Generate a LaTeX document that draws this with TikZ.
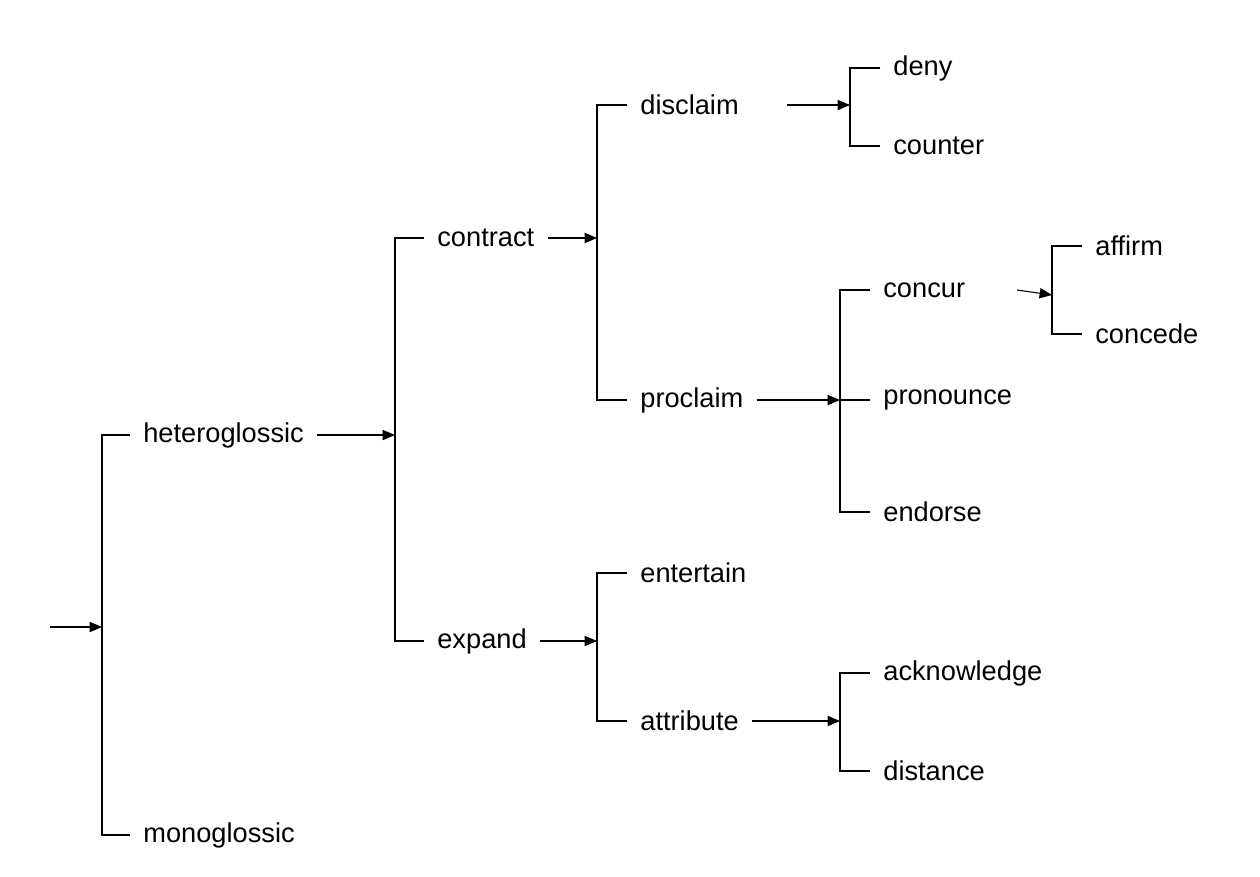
\documentclass[tikz,border=0pt]{standalone}
\usepackage{fontspec}
\setmainfont{Liberation Sans}
\usetikzlibrary{arrows}
\tikzset{opt/.style={anchor=west,inner xsep=0.26cm,inner ysep=0pt,font=\fontsize{15.5}{18}\selectfont},
  link/.style={line width=0.6pt},
  feed/.style={line width=0.6pt,->}}

\begin{document}
\begin{tikzpicture}[line cap=butt,line join=miter,>=triangle 45,x=0.02cm,y=-0.02cm]
\useasboundingbox (0,0) rectangle (1260,876);
% entry
\coordinate (in) at (50,627);
\coordinate (b0) at (102,627);
\coordinate (b0t) at (102,435);
\coordinate (b0b) at (102,835);
\node[opt] (het) at (130,435) {heteroglossic};
\node[opt] (mono) at (130,835) {monoglossic};
\draw[feed] (in) -- (b0);
\draw[link] (het.west) -- (b0t) -- (b0b) -- (mono.west);
% heteroglossic
\coordinate (b1) at (395,435);
\coordinate (b1t) at (395,238);
\coordinate (b1b) at (395,641);
\node[opt] (con) at (424,238) {contract};
\node[opt] (exp) at (424,641) {expand};
\draw[feed] (het.east) -- (b1);
\draw[link] (con.west) -- (b1t) -- (b1b) -- (exp.west);
% contract
\coordinate (b2) at (597,238);
\coordinate (b2t) at (597,105);
\coordinate (b2b) at (597,400);
\node[opt] (dis) at (627,105) {disclaim};
\node[opt] (pro) at (627,400) {proclaim};
\draw[feed] (con.east) -- (b2);
\draw[link] (dis.west) -- (b2t) -- (b2b) -- (pro.west);
% disclaim
\coordinate (b3) at (850,105);
\coordinate (b3t) at (850,68);
\coordinate (b3b) at (850,146);
\node[opt] (deny) at (880,68) {deny};
\node[opt] (cnt) at (880,146) {counter};
\draw[feed] ([xshift=20]dis.east) -- (b3);
\draw[link] (deny.west) -- (b3t) -- (b3b) -- (cnt.west);
% proclaim
\coordinate (b4) at (840,400);
\coordinate (b4t) at (840,290);
\coordinate (b4b) at (840,512);
\node[opt] (ccr) at (870,290) {concur};
\node[opt] (prn) at (870,400) {pronounce};
\node[opt] (end) at (870,512) {endorse};
\draw[feed] (pro.east) -- (b4);
\draw[link] (ccr.west) -- (b4t) -- (b4b) -- (end.west);
\draw[link] (b4) -- (prn.west);
% concur
\coordinate (b5) at (1052,295);
\coordinate (b5t) at (1052,246);
\coordinate (b5b) at (1052,334);
\node[opt] (aff) at (1082,246) {affirm};
\node[opt] (cde) at (1082,334) {concede};
\draw[feed] ([xshift=22]ccr.east) -- (b5);
\draw[link] (aff.west) -- (b5t) -- (b5b) -- (cde.west);
% expand
\coordinate (b6) at (597,641);
\coordinate (b6t) at (597,573);
\coordinate (b6b) at (597,721);
\node[opt] (ent) at (627,573) {entertain};
\node[opt] (att) at (627,721) {attribute};
\draw[feed] (exp.east) -- (b6);
\draw[link] (ent.west) -- (b6t) -- (b6b) -- (att.west);
% attribute
\coordinate (b7) at (840,721);
\coordinate (b7t) at (840,673);
\coordinate (b7b) at (840,771);
\node[opt] (ack) at (870,673) {acknowledge};
\node[opt] (dst) at (870,771) {distance};
\draw[feed] (att.east) -- (b7);
\draw[link] (ack.west) -- (b7t) -- (b7b) -- (dst.west);
\end{tikzpicture}
\end{document}
